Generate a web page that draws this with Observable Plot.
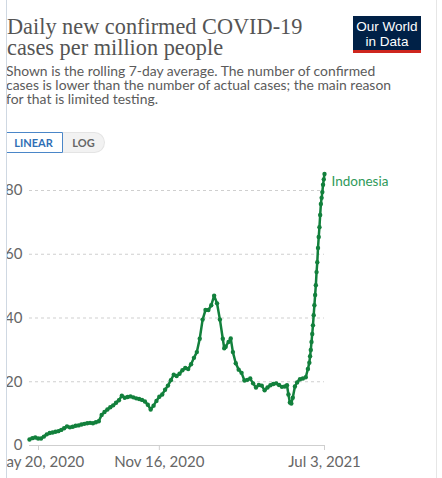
<!DOCTYPE html>
<html><head><meta charset="utf-8">
<script src="https://cdn.jsdelivr.net/npm/d3@7"></script>
<script src="https://cdn.jsdelivr.net/npm/@observablehq/plot@0.6"></script>
<style>
body{margin:0;background:#fff;width:442px;height:478px;overflow:hidden;position:relative;font-family:Lato,sans-serif;}
#title{position:absolute;left:7px;top:16px;font-family:"Liberation Serif",serif;font-size:22.3px;line-height:21px;color:#555;white-space:nowrap;}
#sub{position:absolute;left:6px;top:64px;font-size:13.9px;line-height:14px;color:#5b5b5b;white-space:nowrap;}
#logo{position:absolute;left:353px;top:16px;width:68px;height:37px;background:#002147;border-bottom:3px solid #ce261e;box-sizing:border-box;color:#fff;font-family:"Liberation Sans",sans-serif;font-size:13.5px;line-height:15px;text-align:center;padding-top:3px;}
.btn{position:absolute;top:132px;height:21px;box-sizing:border-box;font-size:11px;font-weight:bold;line-height:19px;text-align:center;}
#lin{left:-4px;width:67px;border:1px solid #4a86c8;border-radius:10px 0 0 10px;color:#2f6fb5;background:#fff;padding-left:8px;}
#log{left:63px;width:42px;border:1px solid #e4e4e4;border-left:none;border-radius:0 11px 11px 0;color:#666;background:#f2f2f2;}
#chart{position:absolute;left:0;top:160px;}
#mask{position:absolute;left:0;top:0;width:6px;height:478px;background:#fff;z-index:5;border-right:1px solid #cfd8e2;}
#rb{position:absolute;left:436px;top:0;width:1px;height:478px;background:#e6e6e6;}
</style></head>
<body>
<div id="title">Daily new confirmed COVID-19<br>cases per million people</div>
<div id="sub">Shown is the rolling 7-day average. The number of confirmed<br>cases is lower than the number of actual cases; the main reason<br>for that is limited testing.</div>
<div id="logo">Our World<br>in Data</div>
<div class="btn" id="lin">LINEAR</div>
<div class="btn" id="log">LOG</div>
<div id="chart"></div>
<div id="mask"></div>
<div id="rb"></div>
<script>
const country = "Indonesia";
const dates = ["2020-05-20","2020-05-24","2020-05-28","2020-06-01","2020-06-05","2020-06-09","2020-06-13","2020-06-17","2020-06-21","2020-06-25","2020-06-29","2020-07-03","2020-07-07","2020-07-11","2020-07-15","2020-07-19","2020-07-23","2020-07-27","2020-07-31","2020-08-04","2020-08-08","2020-08-12","2020-08-16","2020-08-20","2020-08-24","2020-08-28","2020-09-01","2020-09-05","2020-09-09","2020-09-13","2020-09-17","2020-09-21","2020-09-25","2020-09-29","2020-10-03","2020-10-07","2020-10-11","2020-10-15","2020-10-19","2020-10-23","2020-10-27","2020-10-31","2020-11-04","2020-11-08","2020-11-12","2020-11-16","2020-11-20","2020-11-24","2020-11-28","2020-12-02","2020-12-06","2020-12-10","2020-12-14","2020-12-18","2020-12-22","2020-12-26","2020-12-30","2021-01-03","2021-01-07","2021-01-11","2021-01-15","2021-01-19","2021-01-23","2021-01-27","2021-01-31","2021-02-04","2021-02-08","2021-02-12","2021-02-14","2021-02-16","2021-02-20","2021-02-23","2021-02-26","2021-03-02","2021-03-06","2021-03-10","2021-03-14","2021-03-18","2021-03-22","2021-03-26","2021-03-30","2021-04-03","2021-04-07","2021-04-11","2021-04-15","2021-04-19","2021-04-23","2021-04-27","2021-05-01","2021-05-05","2021-05-09","2021-05-12","2021-05-14","2021-05-16","2021-05-18","2021-05-20","2021-05-23","2021-05-26","2021-05-30","2021-06-03","2021-06-07","2021-06-10","2021-06-12","2021-06-13","2021-06-14","2021-06-15","2021-06-16","2021-06-17","2021-06-18","2021-06-19","2021-06-20","2021-06-21","2021-06-22","2021-06-23","2021-06-24","2021-06-25","2021-06-26","2021-06-27","2021-06-28","2021-06-29","2021-06-30","2021-07-01","2021-07-02","2021-07-03"];
const cases = [1.9,2.3,2.5,2.2,2.2,2.8,3.5,3.9,4.1,4.3,4.5,4.9,5.4,6.0,5.7,5.9,6.2,6.3,6.6,6.8,7.0,7.1,7.0,7.3,7.6,9.6,10.5,11.3,12.0,12.6,13.4,14.2,15.6,15.0,15.2,15.4,15.1,14.8,14.6,14.3,13.8,12.8,11.3,12.5,14.0,15.3,16.0,17.5,18.8,20.5,22.2,21.8,22.5,23.6,24.3,24.0,25.5,27.5,29.3,33.5,39.5,42.5,42.5,44.0,47.0,44.6,39.5,33.5,30.5,31.0,32.5,33.6,29.3,25.8,23.8,22.8,20.4,20.6,21.0,19.5,18.2,19.0,18.8,17.3,18.2,18.9,19.3,19.5,19.0,18.4,18.5,18.9,16.0,13.5,13.2,15.0,18.5,19.8,20.8,21.0,21.4,24.0,26.0,28.0,30.0,32.5,35.0,37.7,40.9,44.0,47.2,50.3,54.4,57.5,62.0,65.4,68.5,72.3,75.8,77.7,79.5,81.8,83.5,85.2];
const yTicks = [0,20,40,60,80];
const xTickDates = ["2020-05-20","2020-11-16","2021-07-03"];

const data = dates.map((d,i)=>({date:new Date(d+"T00:00:00Z"), value:cases[i]}));
const xt = xTickDates.map(d=>new Date(d+"T00:00:00Z"));
const fmt = d3.utcFormat("%b %-d, %Y");
const green = "#12803c";
const last = data[data.length-1];

const chart = Plot.plot({
  width: 442, height: 320,
  marginLeft: 29, marginRight: 118, marginTop: 30, marginBottom: 35,
  style: {fontFamily: "Lato, sans-serif", fontSize: "15px", color: "#666", background: "transparent"},
  x: {type: "utc", domain: [xt[0], xt[2]], label: null},
  y: {domain: [0, 80], label: null},
  marks: [
    Plot.gridY(yTicks.slice(1), {stroke: "#cfcfcf", strokeOpacity: 1, strokeDasharray: "3,3"}),
    Plot.ruleY([0], {stroke: "#cfcfcf"}),
    Plot.axisY(yTicks, {tickSize: 0, tickPadding: 7, fill: "#666", fontSize: 15, label: null}),
    Plot.axisX(xt.slice(0,1), {tickSize: 5, stroke: "#cfcfcf", tickPadding: 6, tickFormat: fmt, fill: "#666", fontSize: 15, dx: 9, label: null}),
    Plot.axisX(xt.slice(1), {tickSize: 5, stroke: "#cfcfcf", tickPadding: 6, tickFormat: fmt, fill: "#666", fontSize: 15, label: null}),
    Plot.line(data, {x: "date", y: "value", stroke: green, strokeWidth: 2.5}),
    Plot.dot(data, {x: "date", y: "value", r: 2.2, fill: green}),
    Plot.text([last], {x: "date", y: "value", text: () => country, textAnchor: "start", dx: 7, dy: 8, fill: "#2f9a5a", fontSize: 13.5})
  ]
});
document.getElementById("chart").appendChild(chart);
</script>
</body></html>
